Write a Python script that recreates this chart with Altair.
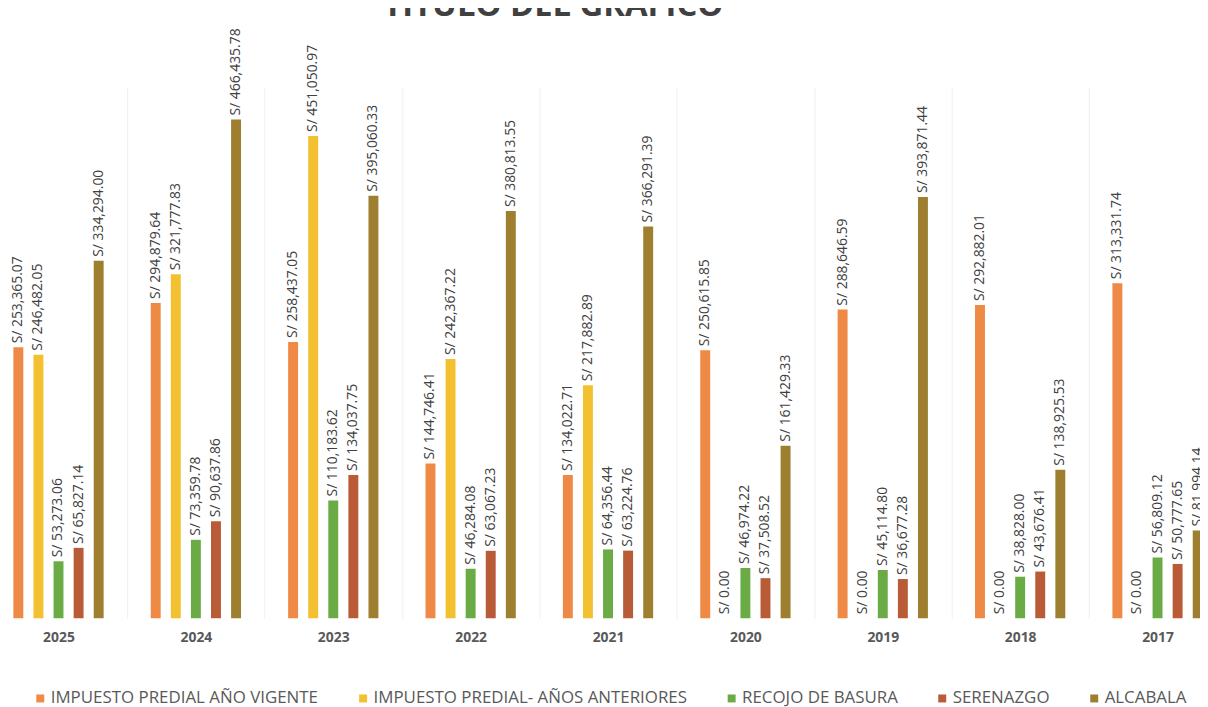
import altair as alt
import pandas as pd

years = ["2025", "2024", "2023", "2022", "2021", "2020", "2019", "2018", "2017"]
series = [
    "IMPUESTO PREDIAL AÑO VIGENTE",
    "IMPUESTO PREDIAL- AÑOS ANTERIORES",
    "RECOJO DE BASURA",
    "SERENAZGO",
    "ALCABALA",
]
predial_vigente = [253365.07, 294879.64, 258437.05, 144746.41, 134022.71, 250615.85, 288646.59, 292882.01, 313331.74]
predial_anteriores = [246482.05, 321777.83, 451050.97, 242367.22, 217882.89, 0.00, 0.00, 0.00, 0.00]
recojo_basura = [53273.06, 73359.78, 110183.62, 46284.08, 64356.44, 46974.22, 45114.80, 38828.00, 56809.12]
serenazgo = [65827.14, 90637.86, 134037.75, 63067.23, 63224.76, 37508.52, 36677.28, 43676.41, 50777.65]
alcabala = [334294.00, 466435.78, 395060.33, 380813.55, 366291.39, 161429.33, 393871.44, 138925.53, 81994.14]
colors = ["#EE8A45", "#F3C030", "#6BAB46", "#B95B37", "#9E7F2F"]

all_values = [predial_vigente, predial_anteriores, recojo_basura, serenazgo, alcabala]
rows = []
for s, vals in zip(series, all_values):
    for y, v in zip(years, vals):
        rows.append({"year": y, "serie": s, "valor": v})
df = pd.DataFrame(rows)

FONT = "Open Sans"

x = alt.X(
    "year:N",
    sort=years,
    scale=alt.Scale(range=[-18.3, 1226.4], paddingInner=0, paddingOuter=0),
    axis=alt.Axis(
        title=None,
        domain=False,
        ticks=False,
        grid=True,
        tickBand="extent",
        gridColor="#EFEFEF",
        gridWidth=1,
        labelAngle=0,
        labelFont=FONT,
        labelFontSize=14,
        labelFontWeight="bold",
        labelColor="#595959",
        labelPadding=12,
    ),
)
xoff = alt.XOffset(
    "serie:N",
    sort=series,
    scale=alt.Scale(paddingInner=0, paddingOuter=0.92),
)
y = alt.Y(
    "valor:Q",
    scale=alt.Scale(domain=[0, 497000], nice=False, zero=True),
    axis=None,
)

bars = alt.Chart(df).mark_bar(size=10).encode(
    x=x,
    xOffset=xoff,
    y=y,
    color=alt.Color(
        "serie:N",
        sort=series,
        scale=alt.Scale(domain=series, range=colors),
        legend=alt.Legend(
            title=None,
            orient="none",
            direction="horizontal",
            columns=5,
            legendX=24,
            legendY=607,
            symbolType="square",
            symbolSize=64,
            symbolStrokeWidth=0,
            labelFont=FONT,
            labelFontSize=17,
            labelColor="#595959",
            labelOffset=2,
            columnPadding=36,
            labelLimit=400,
            padding=0,
        ),
    ),
)

labels = alt.Chart(df).transform_calculate(
    etiqueta="'S/ ' + format(datum.valor, ',.2f')"
).mark_text(
    angle=270,
    align="left",
    baseline="middle",
    dx=4,
    font=FONT,
    fontSize=14,
    color="#404040",
).encode(
    x=x,
    xOffset=xoff,
    y=y,
    text="etiqueta:N",
)

chart = (
    alt.layer(bars, labels)
    .properties(
        width=1200,
        height=535,
        background="white",
        autosize=alt.AutoSizeParams(type="none"),
        padding={"left": 0, "right": 0, "top": 77, "bottom": 87},
        title=alt.TitleParams(
            text="TITULO DEL GRAFICO",
            font=FONT,
            fontSize=33,
            fontWeight="bold",
            color="#404040",
            anchor="middle",
            frame="group",
            dx=-51,
            offset=5,
        ),
    )
    .configure_view(stroke=None, strokeWidth=0)
)

chart.save("out.html", embed_options={"renderer": "svg", "actions": False})
